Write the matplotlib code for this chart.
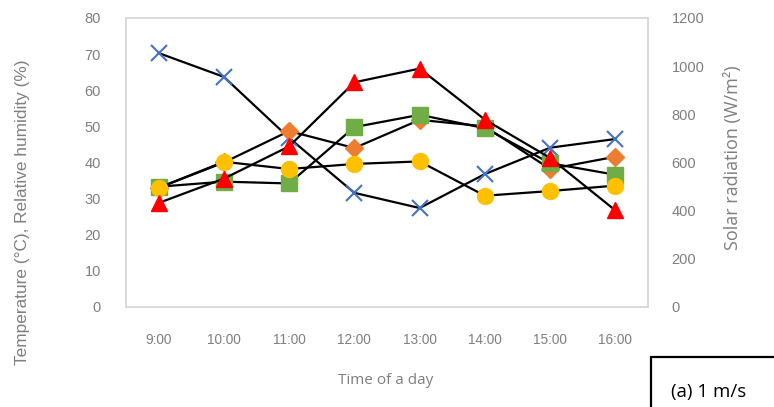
import matplotlib
matplotlib.use("Agg")
import matplotlib.pyplot as plt
from matplotlib.patches import Rectangle

# Hourly readings
hours = ["9:00", "10:00", "11:00", "12:00", "13:00", "14:00", "15:00", "16:00"]
relative_humidity = [70.3, 63.7, 46.8, 31.6, 27.4, 36.8, 44.1, 46.5]
temp_orange = [33.0, 40.0, 48.7, 44.0, 51.8, 50.0, 38.2, 41.6]
temp_green = [33.3, 34.7, 34.2, 49.8, 53.2, 49.5, 39.8, 36.6]
temp_yellow = [33.0, 40.2, 38.2, 39.6, 40.3, 30.8, 32.1, 33.6]
solar_radiation = [432, 533, 667, 933, 990, 778, 619, 401]

left_ticks = [0, 10, 20, 30, 40, 50, 60, 70, 80]
right_ticks = [0, 200, 400, 600, 800, 1000, 1200]

W, H = 774, 407
fig = plt.figure(figsize=(W / 100, H / 100), dpi=100)
ax = fig.add_axes([126 / W, 1 - 307 / H, 522 / W, 289 / H])
ax2 = ax.twinx()

grey = "#7F7F7F"
x = list(range(len(hours)))
lw = 1.6

ax.plot(x, relative_humidity, color="black", lw=lw, marker="x", ms=11.5,
        mec="#4472C4", mew=1.5, zorder=3)
ax.plot(x, temp_orange, color="black", lw=lw, marker="D", ms=9,
        mfc="#ED7D31", mec="#ED7D31", zorder=4)
ax.plot(x, temp_green, color="black", lw=lw, marker="s", ms=11,
        mfc="#70AD47", mec="#70AD47", zorder=5)
ax.plot(x, temp_yellow, color="black", lw=lw, marker="o", ms=11.5,
        mfc="#FFC000", mec="#FFC000", zorder=6)
ax2.plot(x, solar_radiation, color="black", lw=lw, marker="^", ms=11.5,
         mfc="#FF0000", mec="#FF0000", zorder=7)

ax.set_xlim(-0.5, len(hours) - 0.5)
ax.set_ylim(0, 80)
ax2.set_ylim(0, 1200)
ax.set_xticks(x)
ax.set_xticklabels(hours, family="Liberation Sans", fontsize=9.8, color=grey)
ax.set_yticks(left_ticks)
ax.set_yticklabels([str(v) for v in left_ticks], family="Liberation Sans",
                   fontsize=10.5, color=grey)
ax2.set_yticks(right_ticks)
ax2.set_yticklabels([str(v) for v in right_ticks], family="Liberation Sans",
                    fontsize=10.5, color=grey)
ax.tick_params(axis="x", length=0, pad=19)
ax.tick_params(axis="y", length=0, pad=18)
ax2.tick_params(axis="y", length=0, pad=17)

for a in (ax, ax2):
    for s in a.spines.values():
        s.set_color("#D9D9D9")
        s.set_linewidth(1.2)

fig.text(23 / W, 1 - 212 / H, "Temperature (°C), Relative humidity (%)",
         rotation=90, ha="center", va="center", family="Liberation Sans",
         fontsize=12.4, color=grey)
fig.text(733 / W, 1 - 158 / H, "Solar radiation (W/m²)", rotation=90,
         ha="center", va="center", family="Open Sans", fontsize=13, color=grey)
fig.text(386 / W, 1 - 380 / H, "Time of a day", ha="center", va="center",
         family="Open Sans", fontsize=11, color=grey)

fig.patches.append(Rectangle((651 / W, -0.05), 0.2, 1 - 357 / H + 0.05,
                             transform=fig.transFigure, fill=False,
                             edgecolor="black", linewidth=1.6))
fig.text(709 / W, 1 - 392 / H, "(a) 1 m/s", ha="center", va="center",
         family="Open Sans", fontsize=13.5, color="black")

fig.savefig("out.png", dpi=100)
